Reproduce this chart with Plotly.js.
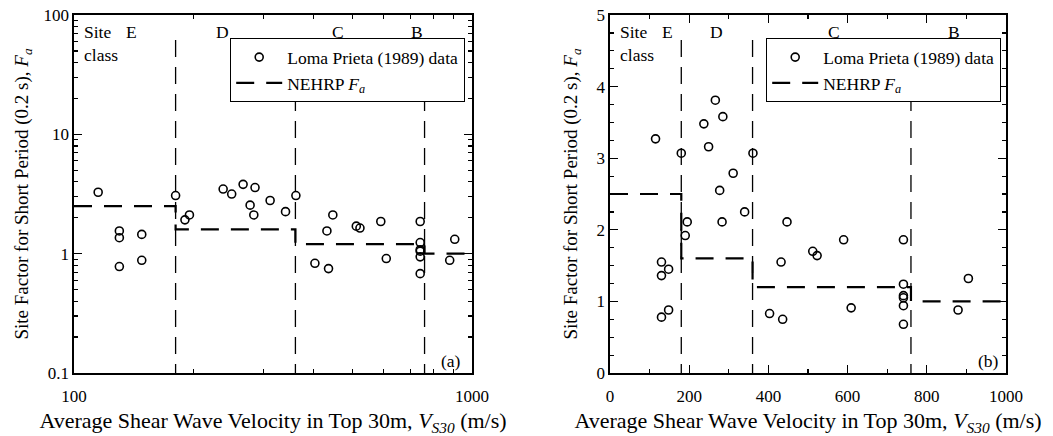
<!DOCTYPE html>
<html>
<head>
<meta charset="utf-8">
<script src="https://cdn.plot.ly/plotly-3.0.1.min.js"></script>
<style>html,body{margin:0;padding:0;background:#fff;}#chart{width:1053px;height:436px;}</style>
</head>
<body>
<div id="chart"></div>
<script>
// Loma Prieta (1989) data: VS30 (m/s) and site factor Fa
const vs30 = [115, 180, 237, 249, 266, 285, 311, 277, 340, 361, 195, 190, 283, 447,
              130, 130, 148, 130, 148, 403, 436, 432, 512, 523, 590, 609,
              741, 741, 741, 741, 741, 741, 879, 905];
const fa   = [3.27, 3.07, 3.48, 3.16, 3.81, 3.58, 2.79, 2.55, 2.25, 3.07, 2.11, 1.92, 2.11, 2.11,
              1.55, 1.36, 1.45, 0.78, 0.88, 0.83, 0.75, 1.55, 1.70, 1.64, 1.86, 0.91,
              1.86, 1.24, 1.08, 1.05, 0.94, 0.68, 0.88, 1.32];
// NEHRP site class boundaries and Fa values per class (E, D, C, B)
const classBounds = [180, 360, 760];
const nehrpFa = [2.5, 1.6, 1.2, 1.0];
const classLabels = ['E', 'D', 'C', 'B'];
// tick labels
const logXTicks = [100, 1000];
const logXMinor = [200, 300, 400, 500, 600, 700, 800, 900];
const logYTicks = [0.1, 1, 10, 100];
const logYMinor = [0.2,0.3,0.4,0.5,0.6,0.7,0.8,0.9,2,3,4,5,6,7,8,9,20,30,40,50,60,70,80,90];

const FONT = 'Liberation Serif';

function stepLine(xmin, xmax) {
  const xs = [xmin], ys = [nehrpFa[0]];
  classBounds.forEach((b, i) => { xs.push(b, b); ys.push(nehrpFa[i], nehrpFa[i + 1]); });
  xs.push(xmax); ys.push(nehrpFa[nehrpFa.length - 1]);
  return {xs, ys};
}
const stepLog = stepLine(100, 1000);
const stepLin = stepLine(0, 1000);

const markerStyle = {symbol: 'circle-open', size: 8, color: '#000', line: {width: 1.6, color: '#000'}};
const nehrpLine = {color: '#000', width: 2.2, dash: '18px,12px'};

const traces = [
  {x: vs30, y: fa, xaxis: 'x', yaxis: 'y', mode: 'markers', marker: markerStyle,
   name: 'Loma Prieta (1989) data', legend: 'legend'},
  {x: stepLog.xs, y: stepLog.ys, xaxis: 'x', yaxis: 'y', mode: 'lines', line: nehrpLine,
   name: 'NEHRP <i>F</i><sub><i>a</i></sub>', legend: 'legend'},
  {x: vs30, y: fa, xaxis: 'x2', yaxis: 'y2', mode: 'markers', marker: markerStyle,
   name: 'Loma Prieta (1989) data', legend: 'legend2'},
  {x: stepLin.xs, y: stepLin.ys, xaxis: 'x2', yaxis: 'y2', mode: 'lines', line: nehrpLine,
   name: 'NEHRP <i>F</i><sub><i>a</i></sub>', legend: 'legend2'}
];

const L = {x0: 74, x1: 472}, R = {x0: 610, x1: 1006};
const T = 15, B = 373, W = 1053, H = 436;
const yDom = [1 - B / H, 1 - T / H];

const axCommon = {
  showline: true, linecolor: '#000', linewidth: 1.6, mirror: 'ticks',
  ticks: 'inside', ticklen: 8, tickwidth: 1.3, tickcolor: '#000',
  showgrid: false, zeroline: false,
  tickfont: {family: FONT, size: 17, color: '#000'}
};
const xTitleFont = {family: FONT, size: 22, color: '#000'};
const yTitleFont = {family: FONT, size: 19, color: '#000'};
const xTitle = 'Average Shear Wave Velocity in Top 30m, <i>V</i><sub><i>S30</i></sub> (m/s)';
const yTitle = 'Site Factor for Short Period (0.2 s), <i>F<sub>a</sub></i>';

const shapes = [];
classBounds.forEach(b => {
  ['x', 'x2'].forEach((xr, k) => {
    shapes.push({type: 'line', xref: xr, yref: (k ? 'y2' : 'y') + ' domain', x0: b, x1: b, y0: 0.93, y1: 0,
      line: {color: '#000', width: 1.3, dash: '17px,10px'}});
  });
});

const annFont = {family: FONT, size: 17.5, color: '#000'};
const annotations = [];
function addLabels(xr, yr, siteX, labelXs, tag, tagX) {
  annotations.push({xref: xr + ' domain', yref: yr + ' domain', x: siteX, y: 0.985, xanchor: 'left', yanchor: 'top',
    text: 'Site<br>class', showarrow: false, align: 'left', font: annFont});
  classLabels.forEach((c, i) => annotations.push({xref: xr + ' domain', yref: yr + ' domain', x: labelXs[i], y: 0.985,
    xanchor: 'center', yanchor: 'top', text: c, showarrow: false, font: annFont}));
  annotations.push({xref: xr + ' domain', yref: yr + ' domain', x: tagX, y: 0.0, xanchor: 'center', yanchor: 'bottom',
    text: tag, showarrow: false, font: annFont});
}
const lw = L.x1 - L.x0, rw = R.x1 - R.x0;
addLabels('x', 'y', (82 - L.x0) / lw, [131.7, 222.7, 338, 417].map(v => (v - L.x0) / lw), '(a)', (451 - L.x0) / lw);
addLabels('x2', 'y2', (618 - R.x0) / rw, [667.7, 716.7, 834, 954].map(v => (v - R.x0) / rw), '(b)', (988 - R.x0) / rw);

const legCommon = {bgcolor: 'rgba(255,255,255,1)', bordercolor: '#000', borderwidth: 1.2,
  font: {family: FONT, size: 17.5, color: '#000'}, xanchor: 'left', yanchor: 'top', tracegroupgap: 0, itemwidth: 46};

const layout = {
  width: W, height: H, margin: {l: 0, r: 0, t: 0, b: 0},
  paper_bgcolor: '#fff', plot_bgcolor: '#fff', showlegend: true,
  font: {family: FONT, color: '#000'},
  xaxis: Object.assign({}, axCommon, {domain: [L.x0 / W, L.x1 / W], type: 'log', range: [2, 3], anchor: 'y',
    tickmode: 'array', tickvals: logXTicks, ticktext: logXTicks.map(String), ticklabelstandoff: 7,
    minor: {tickmode: 'array', tickvals: logXMinor, ticks: 'inside', ticklen: 4, tickwidth: 1.2, tickcolor: '#000'},
    title: {text: xTitle, font: xTitleFont, standoff: 8}}),
  yaxis: Object.assign({}, axCommon, {domain: yDom, type: 'log', range: [-1, 2], anchor: 'x',
    tickmode: 'array', tickvals: logYTicks, ticktext: logYTicks.map(String),
    minor: {tickmode: 'array', tickvals: logYMinor, ticks: 'inside', ticklen: 4, tickwidth: 1.2, tickcolor: '#000'},
    title: {text: yTitle, font: yTitleFont, standoff: 10}}),
  xaxis2: Object.assign({}, axCommon, {domain: [R.x0 / W, R.x1 / W], range: [0, 1000], anchor: 'y2',
    tick0: 0, dtick: 200, ticklabelstandoff: 7,
    minor: {dtick: 100, ticks: 'inside', ticklen: 4, tickwidth: 1.2, tickcolor: '#000'},
    title: {text: xTitle, font: xTitleFont, standoff: 8}}),
  yaxis2: Object.assign({}, axCommon, {domain: yDom, range: [0, 5], anchor: 'x2',
    tick0: 0, dtick: 1,
    minor: {dtick: 0.25, ticks: 'inside', ticklen: 4, tickwidth: 1.2, tickcolor: '#000'},
    title: {text: yTitle, font: yTitleFont, standoff: 14}}),
  legend: Object.assign({}, legCommon, {x: 230 / W, y: 1 - 38 / H}),
  legend2: Object.assign({}, legCommon, {x: 766 / W, y: 1 - 38 / H}),
  shapes: shapes,
  annotations: annotations
};

Plotly.newPlot('chart', traces, layout, {displayModeBar: false, staticPlot: true});
</script>
</body>
</html>
